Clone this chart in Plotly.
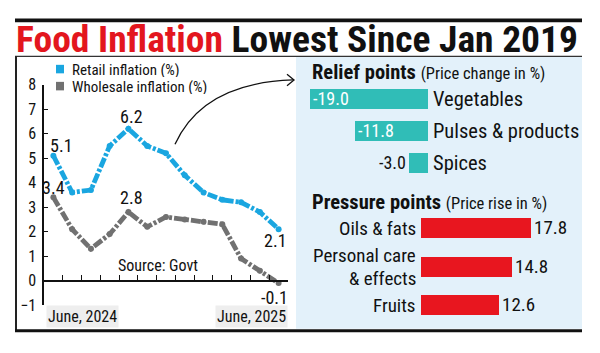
import plotly.graph_objects as go

W, H = 600, 353

# ---------------- data ----------------
months = ["Jun 2024", "Jul 2024", "Aug 2024", "Sep 2024", "Oct 2024", "Nov 2024", "Dec 2024",
          "Jan 2025", "Feb 2025", "Mar 2025", "Apr 2025", "May 2025", "Jun 2025"]
retail = [5.1, 3.6, 3.7, 5.5, 6.2, 5.5, 5.2, 4.3, 3.6, 3.3, 3.2, 2.8, 2.1]
wholesale = [3.4, 2.1, 1.3, 1.9, 2.8, 2.2, 2.6, 2.5, 2.4, 2.3, 0.9, 0.4, -0.1]
y_ticks = [-1, 0, 1, 2, 3, 4, 5, 6, 7, 8]
x_labels = ["June, 2024", "June, 2025"]

relief_cats = ["Vegetables", "Pulses & products", "Spices"]
relief_vals = [-19.0, -11.8, -3.0]
pressure_cats = ["Oils & fats", "Personal care<br>& effects", "Fruits"]
pressure_vals = [17.8, 14.8, 12.6]

# ---------------- style ----------------
FONT = "Roboto Condensed, Roboto, sans-serif"
BLUE = "#1AA6E0"
GRAY = "#717171"
TEAL = "#30BDB7"
RED = "#E8161F"
PANEL = "#E3F1FA"
INK = "#111111"


def X(px):
    return px / W


def Y(py):
    return 1 - py / H


fig = go.Figure()

xi = list(range(len(months)))
fig.add_trace(go.Scatter(x=xi, y=wholesale, mode="lines+markers",
                         line=dict(color=GRAY, width=4.8, dash="10px,2px,3px,2px"),
                         marker=dict(size=6, color=GRAY), hoverinfo="skip",
                         xaxis="x", yaxis="y", cliponaxis=False))
fig.add_trace(go.Scatter(x=xi, y=retail, mode="lines+markers",
                         line=dict(color=BLUE, width=4.8, dash="10px,2px,3px,2px"),
                         marker=dict(size=6, color=BLUE), hoverinfo="skip",
                         xaxis="x", yaxis="y", cliponaxis=False))

# relief bars
fig.add_trace(go.Bar(y=relief_cats, x=relief_vals, orientation="h", width=0.62,
                     marker=dict(color=TEAL, line=dict(width=0)),
                     text=[f"{v:.1f}" for v in relief_vals],
                     textposition=["inside", "inside", "outside"],
                     insidetextanchor="end", constraintext="none",
                     insidetextfont=dict(color="white", size=18, family=FONT),
                     outsidetextfont=dict(color=INK, size=18, family=FONT),
                     cliponaxis=False, xaxis="x2", yaxis="y2", hoverinfo="skip"))
# pressure bars
fig.add_trace(go.Bar(y=pressure_cats, x=pressure_vals, orientation="h", width=0.52,
                     marker=dict(color=RED, line=dict(width=0)),
                     text=[f"{v:.1f}" for v in pressure_vals],
                     textposition="outside", constraintext="none",
                     outsidetextfont=dict(color=INK, size=19, family=FONT),
                     cliponaxis=False, xaxis="x3", yaxis="y3", hoverinfo="skip"))

# ---------------- axes ----------------
ydom = [Y(313), Y(80)]
ymin, ymax = y_ticks[0], y_ticks[-1]
zero_pos = ydom[0] + (ydom[1] - ydom[0]) * (0 - ymin) / (ymax - ymin)

fig.update_layout(
    xaxis=dict(domain=[X(44), X(288)], range=[-0.5, len(months) - 0.5],
               anchor="free", position=zero_pos,
               showline=True, linecolor=INK, linewidth=1.5,
               tickvals=[i + 0.5 for i in xi], ticks="inside", ticklen=5,
               tickcolor=INK, tickwidth=1.3, showticklabels=False,
               showgrid=False, zeroline=False),
    yaxis=dict(domain=ydom, range=[ymin, ymax], tickvals=y_ticks,
               showline=True, linecolor=INK, linewidth=1.5,
               ticks="inside", ticklen=4, tickcolor=INK, tickwidth=1.3,
               tickfont=dict(size=16, color=INK, family=FONT),
               ticklabelstandoff=3, showgrid=False, zeroline=False),
    xaxis2=dict(domain=[X(300), X(580)], anchor="y2",
                range=[-(428 - 300) / 6.2, (580 - 428) / 6.2],
                visible=False),
    yaxis2=dict(domain=[Y(179.5), Y(77.7)], anchor="free", position=X(428),
                side="right", type="category", categoryarray=relief_cats,
                range=[2.5, -0.5], showline=False, ticks="", showgrid=False,
                tickfont=dict(size=20.5, color=INK, family=FONT),
                ticklabelstandoff=4),
    xaxis3=dict(domain=[X(300), X(580)], anchor="y3",
                range=[-(421 - 300) / 6.18, (580 - 421) / 6.18],
                visible=False),
    yaxis3=dict(domain=[Y(333), Y(211.3)], anchor="free", position=X(421),
                side="left", type="category", categoryarray=pressure_cats,
                range=[2.5, -0.5], showline=False, ticks="", showgrid=False,
                showticklabels=False),
)

# ---------------- decorations ----------------
shapes = [
    dict(type="rect", xref="paper", yref="paper", x0=X(296), x1=X(582), y0=Y(338), y1=Y(50),
         fillcolor=PANEL, line=dict(width=0), layer="below"),
    dict(type="rect", xref="paper", yref="paper", x0=X(15), x1=X(582), y0=Y(14), y1=Y(10),
         fillcolor=INK, line=dict(width=0)),
    dict(type="line", xref="paper", yref="paper", x0=X(15), x1=X(582), y0=Y(50), y1=Y(50),
         line=dict(color="#333", width=1.2)),
    dict(type="line", xref="paper", yref="paper", x0=X(16), x1=X(16), y0=Y(50), y1=Y(340),
         line=dict(color="#222", width=2)),
    dict(type="line", xref="paper", yref="paper", x0=X(15), x1=X(582), y0=Y(340), y1=Y(340),
         line=dict(color=INK, width=3)),
    # legend squares
    dict(type="rect", xref="paper", yref="paper", x0=X(56), x1=X(64), y0=Y(68), y1=Y(59),
         fillcolor=BLUE, line=dict(width=0)),
    dict(type="rect", xref="paper", yref="paper", x0=X(56), x1=X(64), y0=Y(86), y1=Y(77),
         fillcolor=GRAY, line=dict(width=0)),
    # curved arrow
    dict(type="path", xref="paper", yref="paper",
         path=f"M {X(175)},{Y(143)} Q {X(203)},{Y(78)} {X(293)},{Y(75)}",
         line=dict(color=INK, width=1.3)),
    dict(type="path", xref="paper", yref="paper",
         path=f"M {X(287)},{Y(69)} L {X(294)},{Y(75)} L {X(287)},{Y(81)}",
         line=dict(color=INK, width=1.3)),
]
fig.update_layout(shapes=shapes)

ann = []
ann.append(dict(xref="paper", yref="paper", x=X(14), y=Y(31.5), xanchor="left", yanchor="middle",
                showarrow=False, height=36,
                text="<b><span style='color:#E3161E'>Food Inflation</span> Lowest Since Jan 2019</b>",
                font=dict(size=37.5, color=INK, family=FONT)))
ann.append(dict(xref="paper", yref="paper", x=X(70), y=Y(63.5), xanchor="left", yanchor="middle",
                showarrow=False, text="Retail inflation (%)", height=15,
                font=dict(size=15, color=INK, family=FONT)))
ann.append(dict(xref="paper", yref="paper", x=X(70), y=Y(81.5), xanchor="left", yanchor="middle",
                showarrow=False, text="Wholesale inflation (%)", height=15,
                font=dict(size=15, color=INK, family=FONT)))
ann.append(dict(xref="paper", yref="paper", x=X(158), y=Y(271), xanchor="center", yanchor="middle",
                showarrow=False, text="Source: Govt",
                font=dict(size=16, color=INK, family=FONT)))
ann.append(dict(xref="paper", yref="paper", x=X(46), y=Y(325), xanchor="left", yanchor="middle",
                showarrow=False, text=x_labels[0], bgcolor="#EEEEEE", borderpad=1,
                font=dict(size=16, color=INK, family=FONT)))
ann.append(dict(xref="paper", yref="paper", x=X(288), y=Y(325), xanchor="right", yanchor="middle",
                showarrow=False, text=x_labels[1], bgcolor="#EEEEEE", borderpad=1,
                font=dict(size=16, color=INK, family=FONT)))

# data value labels
val_labels = [
    (0, retail, 8, 10), (4, retail, 3, 12), (0, wholesale, 0, 10),
    (4, wholesale, 3, 15), (12, retail, -3, -11), (12, wholesale, -4, -14),
]
for i, series, dx, dy in val_labels:
    ann.append(dict(xref="x", yref="y", x=i, y=series[i], xshift=dx, yshift=dy,
                    xanchor="center", yanchor="middle", showarrow=False,
                    text=f"{series[i]:.1f}", font=dict(size=18, color=INK, family=FONT)))

# pressure category labels (split into lines to control line spacing)
LINE_GAP = 22.5
for cat in pressure_cats:
    parts = cat.split("<br>")
    n = len(parts)
    for k, part in enumerate(parts):
        ann.append(dict(xref="paper", yref="y3", x=X(418), y=cat,
                        yshift=(n - 1) / 2 * LINE_GAP - k * LINE_GAP, height=20,
                        xanchor="right", yanchor="middle", showarrow=False,
                        text=part, font=dict(size=19, color=INK, family=FONT)))

# panel headers
ann.append(dict(xref="paper", yref="paper", x=X(310), y=Y(67), xanchor="left", yanchor="middle",
                showarrow=False,
                text="<b>Relief points</b> <span style='font-size:16.5px'>(Price change in %)</span>",
                font=dict(size=20.5, color=INK, family=FONT)))
ann.append(dict(xref="paper", yref="paper", x=X(310), y=Y(204), xanchor="left", yanchor="middle",
                showarrow=False,
                text="<b>Pressure points</b> <span style='font-size:16.5px'>(Price rise in %)</span>",
                font=dict(size=20.5, color=INK, family=FONT)))

fig.update_layout(annotations=ann)

fig.update_layout(width=W, height=H, margin=dict(l=0, r=0, t=0, b=0),
                  paper_bgcolor="white", plot_bgcolor="rgba(0,0,0,0)",
                  showlegend=False, bargap=0,
                  font=dict(family=FONT, color=INK))

fig.write_html("out.html")
